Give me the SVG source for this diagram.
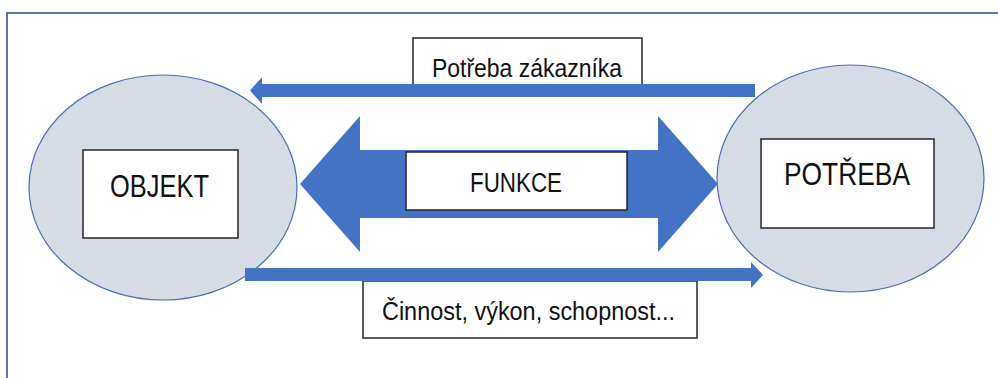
<svg xmlns="http://www.w3.org/2000/svg" width="998" height="378" viewBox="0 0 998 378">
<style>
.frame{fill:#ffffff;stroke:#2F5597;stroke-width:1.6}
.ell{fill:#D6DCE5;stroke:#4A6FAE;stroke-width:1.2}
.box{fill:#ffffff;stroke:#262626;stroke-width:1.5}
.arr{fill:#4472C4}
.t{font-family:"Liberation Sans",Arial,sans-serif;fill:#111111}
</style>
<rect class="frame" x="7" y="13" width="1010" height="400"/>
<g id="objekt">
<ellipse class="ell" cx="163" cy="187.5" rx="134" ry="112.5"/>
<rect class="box" x="83" y="150" width="155" height="88"/>
<text class="t" x="110" y="197" font-size="32" textLength="99" lengthAdjust="spacingAndGlyphs">OBJEKT</text>
</g>
<g id="potreba">
<ellipse class="ell" cx="850.5" cy="178.5" rx="133.5" ry="113.5"/>
<rect class="box" x="761" y="139" width="173" height="89"/>
<text class="t" x="784" y="185" font-size="31" textLength="126" lengthAdjust="spacingAndGlyphs">POTŘEBA</text>
</g>
<g id="label-potreba-zakaznika">
<rect class="box" x="413" y="38" width="229" height="54"/>
<text class="t" x="432" y="77" font-size="25" textLength="190" lengthAdjust="spacingAndGlyphs">Potřeba zákazníka</text>
</g>
<g id="label-cinnost">
<rect class="box" x="363" y="281" width="334" height="57"/>
<text class="t" x="382" y="320" font-size="25" textLength="293" lengthAdjust="spacingAndGlyphs">Činnost, výkon, schopnost...</text>
</g>
<g id="connectors">
<polygon class="arr" points="250,90.5 262,77 262,84 755,84 755,97 262,97 262,104"/>
<polygon class="arr" points="245,268 751,268 751,262 763,275 751,288 751,281 245,281"/>
<polygon class="arr" points="300,184 360,116 360,150 658,150 658,116 718,184 658,252 658,218 360,218 360,252"/>
</g>
<g id="funkce">
<rect class="box" x="406" y="152" width="221" height="58"/>
<text class="t" x="470" y="192" font-size="27" textLength="92" lengthAdjust="spacingAndGlyphs">FUNKCE</text>
</g>
</svg>
